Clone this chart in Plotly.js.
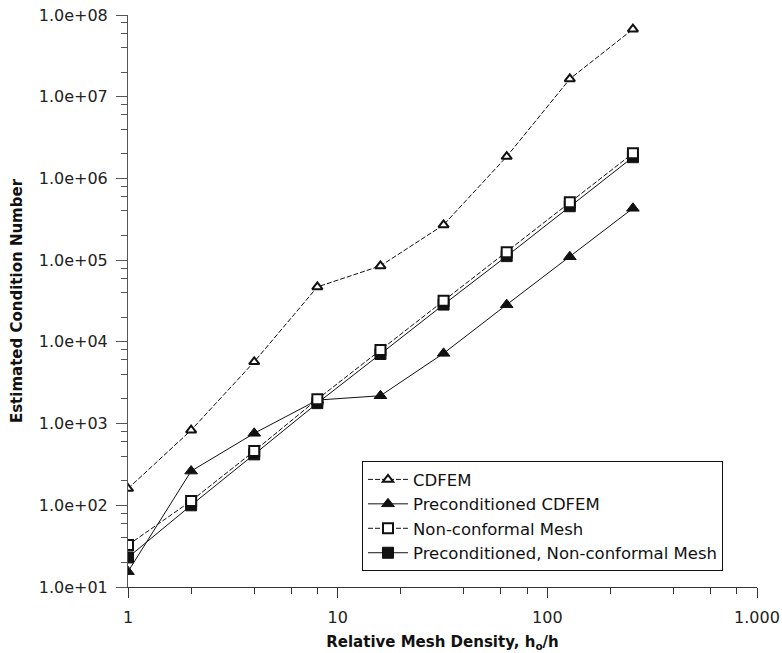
<!DOCTYPE html>
<html>
<head>
<meta charset="utf-8">
<script src="https://cdn.plot.ly/plotly-3.0.1.min.js"></script>
<style>html,body{margin:0;padding:0;background:#fff;}#chart{width:782px;height:653px;}</style>
</head>
<body>
<div id="chart"></div>
<script>
// Relative mesh density h0/h
const meshDensity = [1, 2, 4, 8, 16, 32, 64, 128, 256];
// Estimated condition numbers
const cdfem = [160, 830, 5700, 47000, 85000, 270000, 1850000, 16500000, 67000000];
const precondCdfem = [15.4, 262, 760, 1940, 2190, 7230, 28500, 110000, 431000];
const nonConformal = [32.6, 113, 461, 1980, 7940, 31900, 125000, 510000, 2030000];
const precondNonConformal = [23, 100, 420, 1780, 7100, 28600, 112000, 457000, 1820000];

const seriesNames = ["CDFEM", "Preconditioned CDFEM", "Non-conformal Mesh", "Preconditioned, Non-conformal Mesh"];

const xTickVals = [1, 10, 100, 1000];
const xTickText = ["1", "10", "100", "1.000"];
const yTickVals = [1e1, 1e2, 1e3, 1e4, 1e5, 1e6, 1e7, 1e8];
const yTickText = ["1.0e+01", "1.0e+02", "1.0e+03", "1.0e+04", "1.0e+05", "1.0e+06", "1.0e+07", "1.0e+08"];
const minorDigits = [2, 4, 6, 8];

function minorVals(d0, d1) {
  const out = [];
  for (let d = d0; d < d1; d++) for (const m of minorDigits) out.push(m * Math.pow(10, d));
  return out;
}

const traces = [
  {
    x: meshDensity, y: cdfem, name: seriesNames[0], legendrank: 1,
    mode: "lines+markers", type: "scatter",
    line: {color: "#111", width: 1, dash: "5px,2px"},
    marker: {symbol: "triangle-up", size: 9, color: "#fff", line: {color: "#111", width: 2}}
  },
  {
    x: meshDensity, y: precondCdfem, name: seriesNames[1], legendrank: 2,
    mode: "lines+markers", type: "scatter",
    line: {color: "#111", width: 1},
    marker: {symbol: "triangle-up", size: 11, color: "#111", line: {color: "#111", width: 1}}
  },
  {
    x: meshDensity, y: precondNonConformal, name: seriesNames[3], legendrank: 4,
    mode: "lines+markers", type: "scatter",
    line: {color: "#111", width: 1},
    marker: {symbol: "square", size: 11, color: "#111", line: {color: "#111", width: 1}}
  },
  {
    x: meshDensity, y: nonConformal, name: seriesNames[2], legendrank: 3,
    mode: "lines+markers", type: "scatter",
    line: {color: "#111", width: 1, dash: "5px,2px"},
    marker: {symbol: "square", size: 10, color: "#fff", line: {color: "#111", width: 2}}
  }
];

const tickFont = {family: "DejaVu Sans, Verdana, sans-serif", size: 16, color: "#222"};
const titleFont = {family: "DejaVu Sans, Verdana, sans-serif", size: 15, color: "#111", weight: "bold"};

const layout = {
  width: 782, height: 653,
  margin: {l: 128, r: 25, t: 15, b: 66},
  paper_bgcolor: "#fff", plot_bgcolor: "#fff",
  showlegend: true,
  legend: {
    x: 0.372, y: 0.22, xanchor: "left", yanchor: "top",
    bgcolor: "#fff", bordercolor: "#111", borderwidth: 1,
    font: {family: "DejaVu Sans, Verdana, sans-serif", size: 16.5, color: "#111"},
    itemwidth: 40, tracegroupgap: 0
  },
  xaxis: {
    type: "log", range: [0, 3],
    showgrid: false, zeroline: false,
    showline: true, linecolor: "#333", linewidth: 1,
    tickmode: "array", tickvals: xTickVals, ticktext: xTickText,
    ticks: "outside", ticklen: 10, tickwidth: 1, tickcolor: "#333",
    tickfont: tickFont, ticklabelstandoff: 6,
    minor: {tickmode: "array", tickvals: minorVals(0, 3), ticks: "outside", ticklen: 6, tickwidth: 1, tickcolor: "#333", showgrid: false},
    title: {text: "Relative Mesh Density, h<sub>o</sub>/h", font: titleFont, standoff: 10}
  },
  yaxis: {
    type: "log", range: [1, 8],
    showgrid: false, zeroline: false,
    showline: true, linecolor: "#555", linewidth: 1,
    tickmode: "array", tickvals: yTickVals, ticktext: yTickText,
    ticks: "outside", ticklen: 11, tickwidth: 1, tickcolor: "#555",
    tickfont: tickFont, ticklabelstandoff: 5,
    minor: {tickmode: "array", tickvals: minorVals(1, 8), ticks: "outside", ticklen: 6, tickwidth: 1, tickcolor: "#555", showgrid: false},
    title: {text: "Estimated Condition Number", font: titleFont, standoff: 12}
  }
};

Plotly.newPlot("chart", traces, layout, {displayModeBar: false, staticPlot: true});
</script>
</body>
</html>
